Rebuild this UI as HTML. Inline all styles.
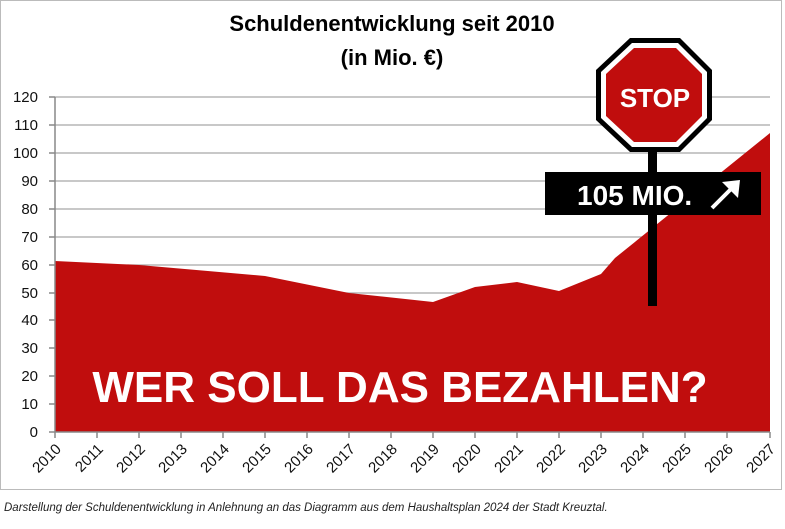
<!DOCTYPE html>
<html><head><meta charset="utf-8"><style>
body{margin:0;background:#fff;}
svg{display:block;font-family:"Liberation Sans",sans-serif;}
</style></head><body>
<svg width="785" height="529" viewBox="0 0 785 529">
<rect x="0.5" y="0.5" width="781" height="489" fill="#fff" stroke="#bbb"/>
<text x="392" y="31" text-anchor="middle" font-size="22" font-weight="bold">Schuldenentwicklung seit 2010</text>
<text x="392" y="65" text-anchor="middle" font-size="22" font-weight="bold">(in Mio. €)</text>
<g stroke="#a6a6a6" stroke-width="1.3">
<line x1="55" x2="770" y1="97" y2="97"/><line x1="55" x2="770" y1="125" y2="125"/><line x1="55" x2="770" y1="153" y2="153"/><line x1="55" x2="770" y1="181" y2="181"/><line x1="55" x2="770" y1="209" y2="209"/><line x1="55" x2="770" y1="237" y2="237"/><line x1="55" x2="770" y1="265" y2="265"/><line x1="55" x2="770" y1="293" y2="293"/><line x1="55" x2="770" y1="320" y2="320"/><line x1="55" x2="770" y1="348" y2="348"/><line x1="55" x2="770" y1="376" y2="376"/><line x1="55" x2="770" y1="404" y2="404"/>
</g>
<polygon fill="#c00d0d" points="55,432 55,261 139,265 265,276 349,293 433,302 475,287 517,282 559,291 601,274 615,258 770,133 770,432"/>
<g stroke="#888" stroke-width="1.5">
<line x1="55" x2="55" y1="97" y2="432"/><line x1="55" x2="770" y1="432" y2="432"/>
</g>
<g stroke="#888" stroke-width="1.5" id="yt">
<line x1="49" x2="55" y1="97" y2="97"/><line x1="49" x2="55" y1="125" y2="125"/><line x1="49" x2="55" y1="153" y2="153"/><line x1="49" x2="55" y1="181" y2="181"/><line x1="49" x2="55" y1="209" y2="209"/><line x1="49" x2="55" y1="237" y2="237"/><line x1="49" x2="55" y1="265" y2="265"/><line x1="49" x2="55" y1="293" y2="293"/><line x1="49" x2="55" y1="320" y2="320"/><line x1="49" x2="55" y1="348" y2="348"/><line x1="49" x2="55" y1="376" y2="376"/><line x1="49" x2="55" y1="404" y2="404"/><line x1="49" x2="55" y1="432" y2="432"/>
<line x1="55" x2="55" y1="432" y2="438"/><line x1="97" x2="97" y1="432" y2="438"/><line x1="139" x2="139" y1="432" y2="438"/><line x1="181" x2="181" y1="432" y2="438"/><line x1="223" x2="223" y1="432" y2="438"/><line x1="265" x2="265" y1="432" y2="438"/><line x1="307" x2="307" y1="432" y2="438"/><line x1="349" x2="349" y1="432" y2="438"/><line x1="391" x2="391" y1="432" y2="438"/><line x1="433" x2="433" y1="432" y2="438"/><line x1="475" x2="475" y1="432" y2="438"/><line x1="517" x2="517" y1="432" y2="438"/><line x1="559" x2="559" y1="432" y2="438"/><line x1="601" x2="601" y1="432" y2="438"/><line x1="643" x2="643" y1="432" y2="438"/><line x1="685" x2="685" y1="432" y2="438"/><line x1="727" x2="727" y1="432" y2="438"/><line x1="770" x2="770" y1="432" y2="438"/>
</g>
<g font-size="15" text-anchor="end" fill="#111">
<text x="38" y="102">120</text><text x="38" y="130">110</text><text x="38" y="158">100</text><text x="38" y="186">90</text><text x="38" y="214">80</text><text x="38" y="242">70</text><text x="38" y="270">60</text><text x="38" y="298">50</text><text x="38" y="325">40</text><text x="38" y="353">30</text><text x="38" y="381">20</text><text x="38" y="409">10</text><text x="38" y="437">0</text>
</g>
<g font-size="15" fill="#111" text-anchor="end">
<text transform="translate(62,450) rotate(-45)">2010</text><text transform="translate(104,450) rotate(-45)">2011</text><text transform="translate(146,450) rotate(-45)">2012</text><text transform="translate(188,450) rotate(-45)">2013</text><text transform="translate(230,450) rotate(-45)">2014</text><text transform="translate(272,450) rotate(-45)">2015</text><text transform="translate(314,450) rotate(-45)">2016</text><text transform="translate(356,450) rotate(-45)">2017</text><text transform="translate(398,450) rotate(-45)">2018</text><text transform="translate(440,450) rotate(-45)">2019</text><text transform="translate(482,450) rotate(-45)">2020</text><text transform="translate(524,450) rotate(-45)">2021</text><text transform="translate(566,450) rotate(-45)">2022</text><text transform="translate(608,450) rotate(-45)">2023</text><text transform="translate(650,450) rotate(-45)">2024</text><text transform="translate(692,450) rotate(-45)">2025</text><text transform="translate(734,450) rotate(-45)">2026</text><text transform="translate(776,450) rotate(-45)">2027</text>
</g>
<rect x="648" y="150" width="9" height="156" fill="#000"/>
<polygon fill="#000" points="630,38 680,38 712,70 712,120 680,152 630,152 596,120 596,70"/>
<polygon fill="#fff" points="632,43 678,43 707,72 707,118 678,147 632,147 601,118 601,72"/>
<polygon fill="#c00d0d" points="634,48 676,48 702,74 702,116 676,142 634,142 606,116 606,74"/>
<text x="655" y="107" text-anchor="middle" font-size="26" font-weight="bold" fill="#fff">STOP</text>
<rect x="545" y="172" width="216" height="43" fill="#000"/>
<text x="577" y="205" font-size="28" font-weight="bold" fill="#fff">105 MIO.</text>
<g stroke="#fff" stroke-width="4" fill="#fff"><line x1="712" y1="208" x2="734" y2="186"/></g>
<polygon fill="#fff" points="740,180 738,198 722,182"/>
<text x="400" y="402" text-anchor="middle" font-size="44" font-weight="bold" fill="#fff">WER SOLL DAS BEZAHLEN?</text>
<text x="4" y="511" font-size="11.5" font-style="italic" fill="#222">Darstellung der Schuldenentwicklung in Anlehnung an das Diagramm aus dem Haushaltsplan 2024 der Stadt Kreuztal.</text>
</svg>
</body></html>
